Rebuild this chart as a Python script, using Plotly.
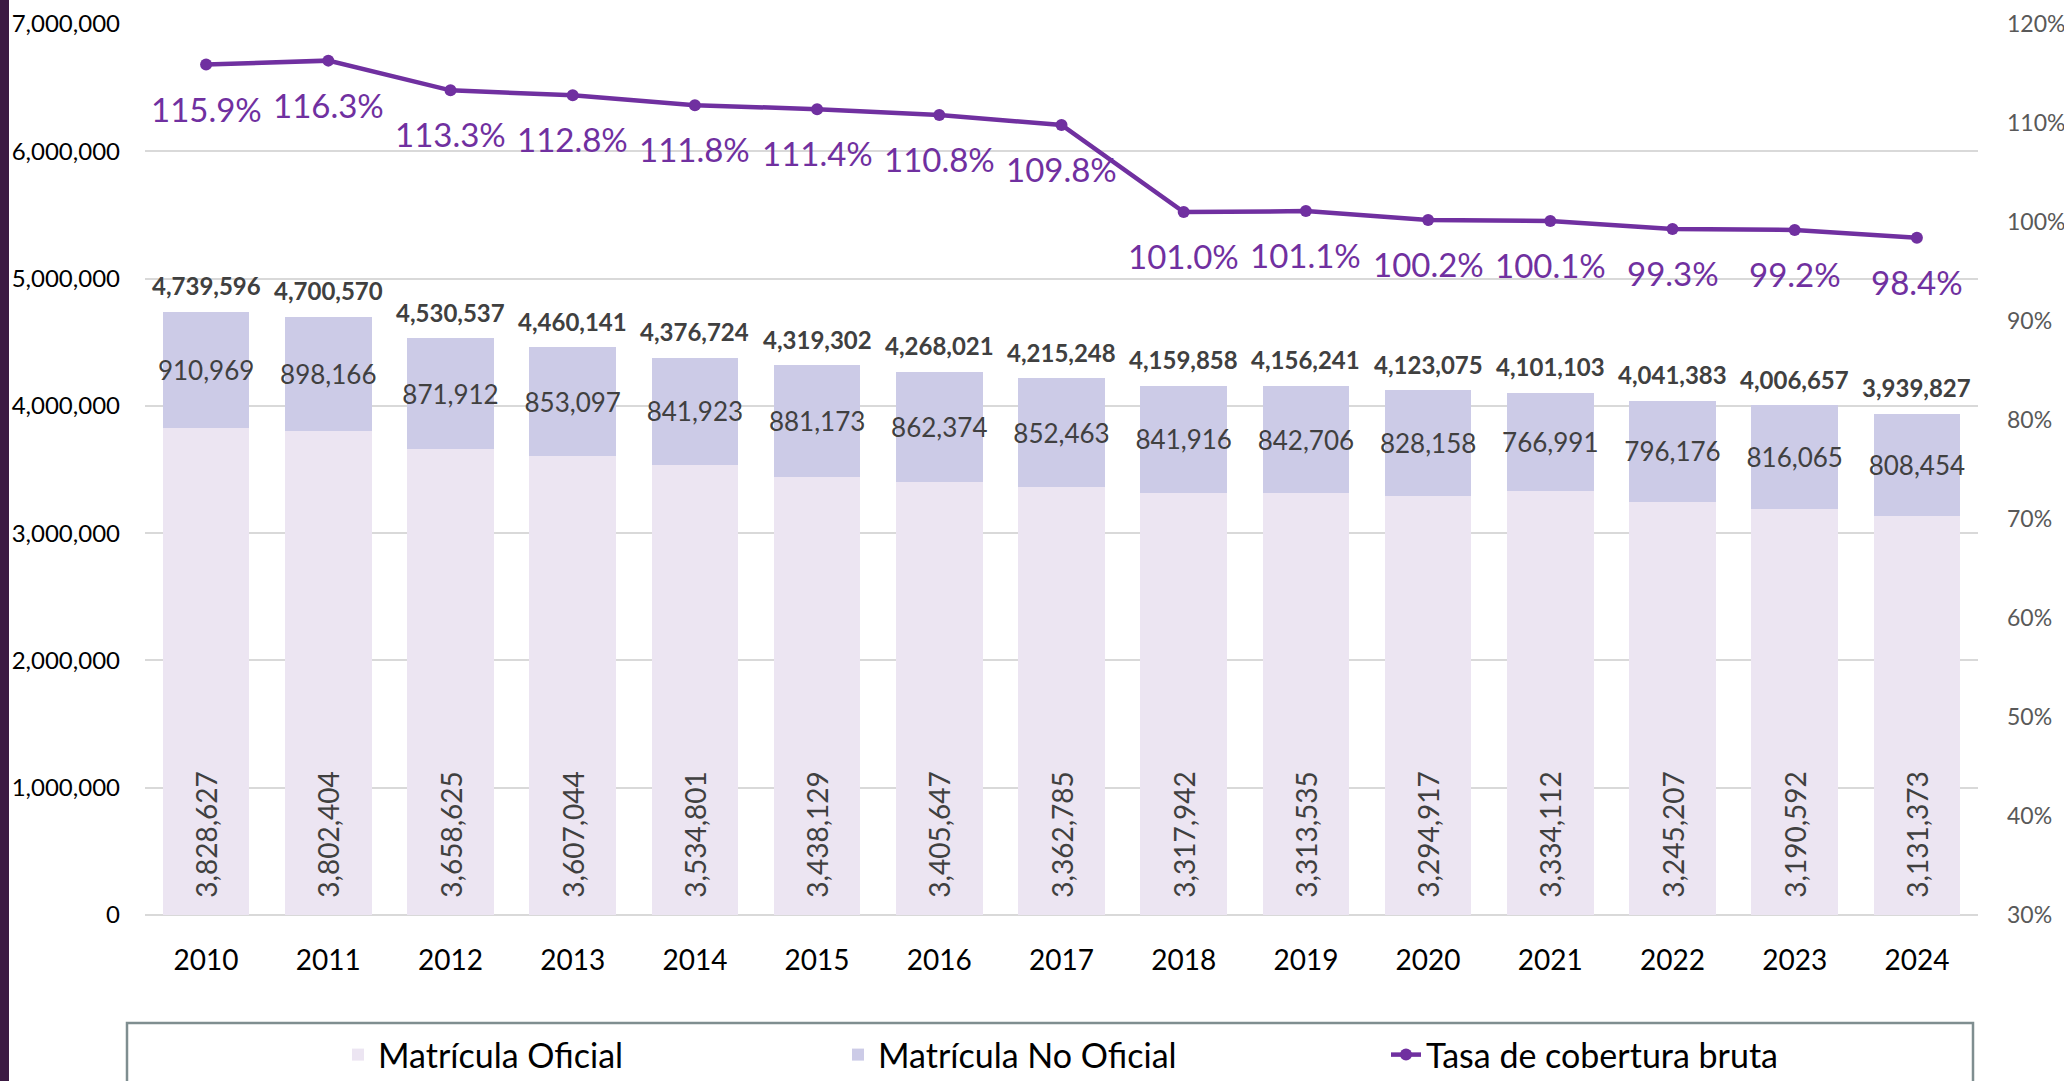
import plotly.graph_objects as go

years = [2010, 2011, 2012, 2013, 2014, 2015, 2016, 2017,
         2018, 2019, 2020, 2021, 2022, 2023, 2024]
oficial = [3828627, 3802404, 3658625, 3607044, 3534801, 3438129, 3405647, 3362785,
           3317942, 3313535, 3294917, 3334112, 3245207, 3190592, 3131373]
no_oficial = [910969, 898166, 871912, 853097, 841923, 881173, 862374, 852463,
              841916, 842706, 828158, 766991, 796176, 816065, 808454]
totales = [4739596, 4700570, 4530537, 4460141, 4376724, 4319302, 4268021, 4215248,
           4159858, 4156241, 4123075, 4101103, 4041383, 4006657, 3939827]
tasa = [115.9, 116.3, 113.3, 112.8, 111.8, 111.4, 110.8, 109.8,
        101.0, 101.1, 100.2, 100.1, 99.3, 99.2, 98.4]

FONT = "Lato"
W, H = 2064, 1081
L, R, T, B = 145, 86, 24, 166
PW, PH = W - L - R, H - T - B


def px_x(x):
    return (x - L) / PW


def px_y(y):
    return (H - B - y) / PH


NB = "\u00a0\u00a0"

fig = go.Figure()

fig.add_trace(go.Bar(
    x=years, y=oficial, name="Matrícula Oficial",
    marker=dict(color="#ECE5F2", line=dict(width=0)),
    text=[NB + f"{v:,}" for v in oficial],
    textposition="inside", insidetextanchor="start", textangle=-90,
    constraintext="none",
    textfont=dict(family=FONT, size=28, color="#404040"),
    legend="legend",
))
fig.add_trace(go.Bar(
    x=years, y=no_oficial, name="Matrícula No Oficial",
    marker=dict(color="#CCCBE7", line=dict(width=0)),
    text=[f"{v:,}" for v in no_oficial],
    textposition="inside", insidetextanchor="middle", textangle=0,
    constraintext="none",
    textfont=dict(family=FONT, size=26, color="#404040"),
    legend="legend2",
))
fig.add_trace(go.Scatter(
    x=years, y=[v / 100 for v in tasa], name="Tasa de cobertura bruta",
    mode="lines+markers", yaxis="y2",
    line=dict(color="#7030A0", width=4.5),
    marker=dict(color="#7030A0", size=12),
    legend="legend3",
))

# total labels above bars
for yr, t in zip(years, totales):
    fig.add_annotation(x=yr, y=t, xref="x", yref="y", text=f"<b>{t:,}</b>",
                       showarrow=False, yanchor="middle", yshift=26,
                       font=dict(family=FONT, size=24, color="#404040"))
# rate labels below points
for yr, v in zip(years, tasa):
    fig.add_annotation(x=yr, y=v / 100, xref="x", yref="y2", text=f"{v:.1f}%",
                       showarrow=False, yanchor="middle", yshift=-44,
                       font=dict(family=FONT, size=33, color="#7030A0"))

# left dark strip
fig.add_shape(type="rect", xref="paper", yref="paper",
              x0=px_x(0), x1=px_x(9), y0=px_y(H + 10), y1=px_y(-10),
              fillcolor="#3B1A42", line=dict(width=0), layer="above")
# legend box
fig.add_shape(type="rect", xref="paper", yref="paper",
              x0=px_x(127), x1=px_x(1973), y0=px_y(1100), y1=px_y(1023),
              fillcolor="rgba(0,0,0,0)", line=dict(color="#7F8E90", width=2.5))

leg_common = dict(orientation="h", xref="container", yref="container",
                  yanchor="middle", y=(H - 1055) / H, xanchor="left",
                  font=dict(family=FONT, size=34, color="#000000"),
                  bgcolor="rgba(0,0,0,0)", borderwidth=0)
fig.update_layout(
    width=W, height=H, autosize=False,
    margin=dict(l=L, r=R, t=T, b=B, pad=0, autoexpand=False),
    paper_bgcolor="white", plot_bgcolor="white",
    barmode="stack", bargap=0.29,
    showlegend=True,
    legend=dict(x=338 / W, **leg_common),
    legend2=dict(x=838 / W, **leg_common),
    legend3=dict(x=1386 / W, **leg_common),
    xaxis=dict(range=[2009.5, 2024.5], tickmode="array", tickvals=years,
               ticktext=[str(y) for y in years],
               showgrid=False, showline=False, zeroline=False, ticks="",
               automargin=False,
               tickfont=dict(family=FONT, size=28, color="#000000"),
               ticklabelstandoff=26),
    yaxis=dict(range=[0, 7000000], dtick=1000000, tickformat=",",
               showgrid=True, gridcolor="#D9D9D9", gridwidth=2,
               zeroline=True, zerolinecolor="#D9D9D9", zerolinewidth=2,
               showline=False, ticks="", automargin=False,
               tickfont=dict(family=FONT, size=24, color="#000000"),
               ticklabelstandoff=24),
    yaxis2=dict(range=[0.3, 1.2], dtick=0.1, tickformat=".0%", overlaying="y",
                side="right", showgrid=False, zeroline=False, showline=False,
                ticks="", automargin=False,
                tickfont=dict(family=FONT, size=23, color="#595959"),
                ticklabelstandoff=28),
)

fig.write_html("out.html",
               config={"displayModeBar": False},
               post_script="document.body.style.margin='0';"
                           "document.body.style.overflow='hidden';")
